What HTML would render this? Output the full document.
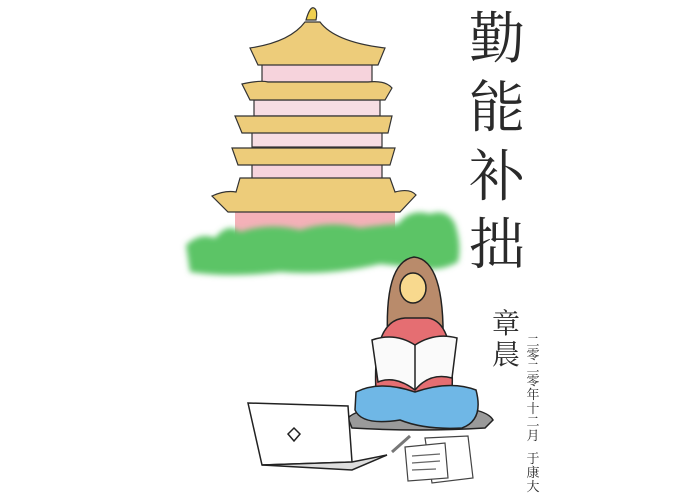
<!DOCTYPE html>
<html><head><meta charset="utf-8"><style>
html,body{margin:0;padding:0;background:#fff;width:700px;height:496px;overflow:hidden}
svg{display:block}
.cj{font-family:"Liberation Serif","Noto Serif CJK SC","Noto Sans CJK SC",serif;fill:#2a2a2a}
</style></head><body>
<svg width="700" height="496" viewBox="0 0 700 496">
<defs>
<filter id="blur"><feGaussianBlur stdDeviation="3"/></filter>
</defs>
<g stroke="#333" stroke-width="1.2">
<rect x="235" y="205" width="160" height="32" fill="#f2a3ab" stroke="none" opacity="0.85"/>
<rect x="262" y="62" width="110" height="20" fill="#f6d3dc"/>
<rect x="254" y="100" width="126" height="16" fill="#f7dde3"/>
<rect x="252" y="132" width="130" height="15" fill="#f7dde3"/>
<rect x="252" y="162" width="130" height="18" fill="#f6d3dc"/>
<path d="M250 48 Q290 42 305 22 L320 22 Q335 42 385 48 L378 65 L258 65 Z" fill="#edcc7a"/>
<path d="M242 84 Q260 80 268 82 L368 82 Q385 80 392 88 L385 100 L250 100 Z" fill="#edcc7a"/>
<path d="M235 116 L392 116 L388 133 L242 133 Z" fill="#edcc7a"/>
<path d="M232 148 L395 148 L390 165 L238 165 Z" fill="#edcc7a"/>
<path d="M240 178 L390 178 L395 192 Q410 188 416 195 L400 212 L228 212 L212 196 Q225 190 236 192 Z" fill="#edcc7a"/>
<path d="M306 20 Q310 6 314 8 Q318 10 316 20 Z" fill="#f0d050"/>
</g>
<g>
<path d="M186 245 Q200 232 215 238 Q228 222 240 232 Q270 222 300 230 Q330 220 360 228 Q380 225 398 224 Q410 208 430 214 Q447 208 455 224 Q462 245 458 262 Q440 272 420 268 L380 264 Q330 276 280 272 Q230 278 190 272 Z" fill="#5bc466" filter="url(#blur)"/>
</g>
<g stroke="#222" stroke-width="1.5">
<path d="M348 418 Q360 405 420 406 Q485 405 493 420 L485 428 Q420 432 352 428 Z" fill="#9a9a9a"/>
<path d="M388 345 Q383 262 414 257 Q445 260 443 345 Z" fill="#b98b6b"/>
<path d="M376 392 Q372 320 405 318 L428 318 Q455 322 452 392 Z" fill="#e56e72"/>
<ellipse cx="413" cy="288" rx="13" ry="15" fill="#f8d98e"/>
<path d="M356 392 Q380 380 415 392 Q450 380 476 390 Q484 420 462 428 Q425 430 400 420 Q362 426 355 410 Z" fill="#6fb7e6"/>
<path d="M372 340 Q395 332 415 345 Q435 332 457 338 L452 378 Q430 372 415 390 Q395 375 378 382 Z" fill="#fafafa"/>
<line x1="415" y1="345" x2="415" y2="390"/>
</g>
<g stroke="#222" stroke-width="1.5" fill="#fff">
<path d="M248 403 L348 406 L352 462 L262 465 Z"/>
<path d="M262 465 L352 462 L387 455 L352 470 Z" fill="#ddd"/>
<path d="M294 428 L300 434 L294 441 L288 434 Z"/>
</g>
<g stroke="#444" stroke-width="1.2" fill="#fff">
<line x1="392" y1="452" x2="410" y2="436" stroke="#777" stroke-width="3"/>
<path d="M425 438 L468 436 L473 478 L432 483 Z"/>
<path d="M405 447 L445 443 L448 478 L408 481 Z"/>
<path d="M412 456 L440 454 M412 463 L440 461 M412 470 L436 469" stroke="#666"/>
</g>
<g>
<text class="cj" x="497" y="58" font-size="56" text-anchor="middle">勤</text>
<text class="cj" x="497" y="127" font-size="56" text-anchor="middle">能</text>
<text class="cj" x="497" y="196" font-size="56" text-anchor="middle">补</text>
<text class="cj" x="497" y="264" font-size="56" text-anchor="middle">拙</text>
</g>
<g>
<text class="cj" x="506" y="333" font-size="28" text-anchor="middle">章</text>
<text class="cj" x="506" y="364" font-size="28" text-anchor="middle">晨</text>
</g>
<g font-size="13" text-anchor="middle">
<text class="cj" x="533" y="346">二</text>
<text class="cj" x="533" y="359">零</text>
<text class="cj" x="533" y="372">二</text>
<text class="cj" x="533" y="385">零</text>
<text class="cj" x="533" y="399">年</text>
<text class="cj" x="533" y="413">十</text>
<text class="cj" x="533" y="426">二</text>
<text class="cj" x="533" y="440">月</text>
<text class="cj" x="533" y="463">于</text>
<text class="cj" x="533" y="477">康</text>
<text class="cj" x="533" y="491">大</text>
</g>
</svg>
</body></html>
